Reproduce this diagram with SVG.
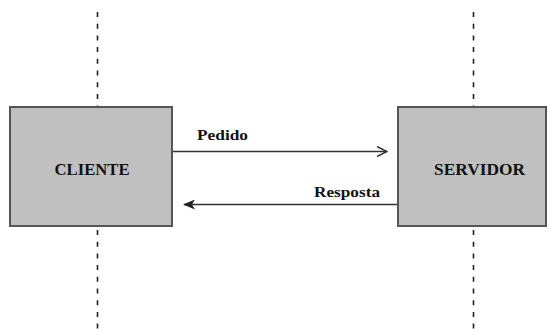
<svg xmlns="http://www.w3.org/2000/svg" width="548" height="329" viewBox="0 0 548 329">
  <style>
    .lifeline { stroke: #222; stroke-width: 1.6; stroke-dasharray: 5 6.7; fill: none; }
    .box { fill: #c0c0c0; stroke: #555; stroke-width: 2; }
    .msg { stroke: #333; stroke-width: 1.5; fill: none; }
    .label { font-family: "Liberation Serif", "Times New Roman", serif; font-weight: bold; fill: #111; }
  </style>
  <defs>
    <marker id="openHead" viewBox="0 0 12 12" refX="11" refY="6" markerWidth="12" markerHeight="12" markerUnits="userSpaceOnUse" orient="auto">
      <path d="M1,1 L11,6 L1,11" fill="none" stroke="#333" stroke-width="1.5"/>
    </marker>
    <marker id="solidHead" viewBox="0 0 12 10" refX="11" refY="5" markerWidth="12" markerHeight="10" markerUnits="userSpaceOnUse" orient="auto">
      <path d="M12,5 L0,0 L3,5 L0,10 Z" fill="#222"/>
    </marker>
  </defs>

  <rect width="548" height="329" fill="#fff"/>

  <!-- lifelines -->
  <g id="lifelines">
    <line class="lifeline" x1="97.5" y1="12" x2="97.5" y2="107"/>
    <line class="lifeline" x1="97.5" y1="230" x2="97.5" y2="329"/>
    <line class="lifeline" x1="473.5" y1="12" x2="473.5" y2="107"/>
    <line class="lifeline" x1="473.5" y1="230" x2="473.5" y2="329"/>
  </g>

  <g id="cliente">
    <rect class="box" x="10" y="107" width="162" height="119"/>
    <text class="label" x="92" y="174.5" font-size="17.5" text-anchor="middle" textLength="75" lengthAdjust="spacingAndGlyphs">CLIENTE</text>
  </g>

  <g id="servidor">
    <rect class="box" x="398" y="107" width="148" height="119"/>
    <text class="label" x="479.5" y="174.5" font-size="17.5" text-anchor="middle" textLength="91" lengthAdjust="spacingAndGlyphs">SERVIDOR</text>
  </g>

  <g id="connectors">
    <line class="msg" x1="173" y1="151.5" x2="387" y2="151.5" marker-end="url(#openHead)"/>
    <text class="label" x="197" y="140" font-size="15" textLength="51" lengthAdjust="spacingAndGlyphs">Pedido</text>
    <line class="msg" x1="397" y1="204.5" x2="184" y2="204.5" marker-end="url(#solidHead)"/>
    <text class="label" x="314" y="197" font-size="15" textLength="66" lengthAdjust="spacingAndGlyphs">Resposta</text>
  </g>
</svg>
